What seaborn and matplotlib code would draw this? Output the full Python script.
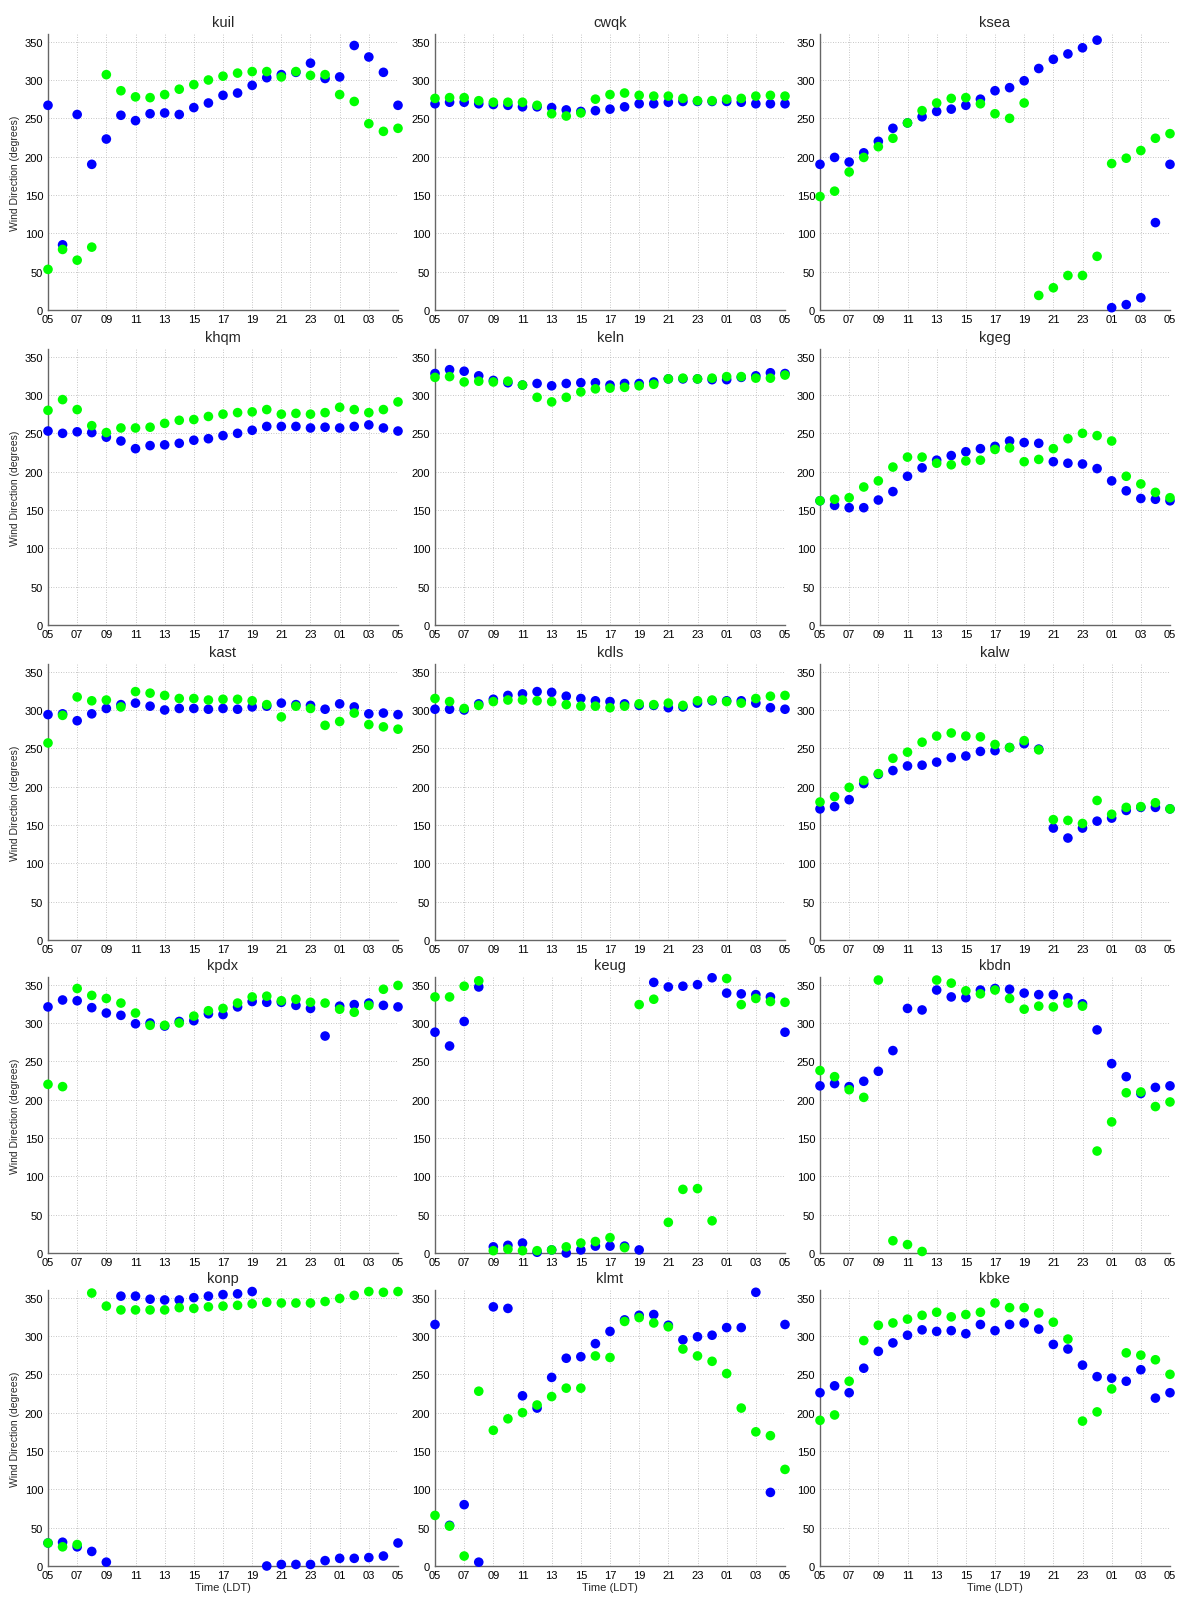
import numpy as np
import pandas as pd
import matplotlib
matplotlib.use("Agg")
import matplotlib.pyplot as plt
import seaborn as sns

# Hour axis: 05 LDT through 05 LDT next day, hourly
hour_index = list(range(25))
tick_positions = list(range(0, 25, 2))
tick_labels = ["05", "07", "09", "11", "13", "15", "17", "19", "21", "23", "01", "03", "05"]
y_ticks = [0, 50, 100, 150, 200, 250, 300, 350]

stations = ["kuil", "cwqk", "ksea",
            "khqm", "keln", "kgeg",
            "kast", "kdls", "kalw",
            "kpdx", "keug", "kbdn",
            "konp", "klmt", "kbke"]

# Wind direction (degrees), blue series then green series per station
kuil_obs = [267, 85, 255, 190, 223, 254, 247, 256, 257, 255, 264, 270, 280, 283, 293, 303, 307, 310, 322, 302, 304, 345, 330, 310, 267]
kuil_fcst = [53, 79, 65, 82, 307, 286, 278, 277, 281, 288, 294, 300, 305, 309, 311, 311, 304, 311, 306, 307, 281, 272, 243, 233, 237]

cwqk_obs = [269, 271, 271, 269, 268, 267, 265, 265, 264, 261, 259, 260, 262, 265, 269, 269, 271, 272, 272, 272, 272, 271, 269, 269, 269]
cwqk_fcst = [276, 277, 277, 273, 271, 271, 271, 267, 256, 253, 257, 275, 281, 283, 280, 279, 279, 276, 273, 273, 275, 276, 279, 280, 279]

ksea_obs = [190, 199, 193, 205, 220, 237, 244, 252, 259, 262, 267, 275, 286, 290, 299, 315, 327, 334, 342, 352, 3, 7, 16, 114, 190]
ksea_fcst = [148, 155, 180, 199, 213, 224, 244, 260, 270, 276, 277, 269, 256, 250, 270, 19, 29, 45, 45, 70, 191, 198, 208, 224, 230]

khqm_obs = [253, 250, 252, 251, 245, 240, 230, 234, 235, 237, 241, 243, 247, 250, 254, 259, 259, 259, 257, 258, 257, 259, 261, 257, 253]
khqm_fcst = [280, 294, 281, 260, 251, 257, 257, 258, 263, 267, 268, 272, 275, 277, 278, 281, 275, 276, 275, 277, 284, 281, 277, 281, 291]

keln_obs = [328, 333, 331, 325, 319, 316, 313, 315, 312, 315, 316, 316, 313, 315, 315, 317, 321, 321, 321, 320, 320, 323, 325, 329, 328]
keln_fcst = [323, 324, 317, 318, 317, 318, 313, 297, 291, 297, 304, 308, 309, 310, 312, 314, 321, 322, 321, 322, 324, 324, 322, 322, 326]

kgeg_obs = [162, 156, 153, 153, 163, 174, 194, 205, 215, 221, 226, 230, 233, 240, 238, 237, 213, 211, 210, 204, 188, 175, 165, 164, 162]
kgeg_fcst = [162, 164, 166, 180, 188, 206, 219, 219, 211, 209, 214, 215, 229, 231, 213, 216, 230, 243, 250, 247, 240, 194, 184, 173, 166]

kast_obs = [294, 295, 286, 295, 302, 307, 309, 305, 300, 302, 302, 301, 302, 301, 304, 305, 309, 307, 306, 301, 308, 304, 295, 296, 294]
kast_fcst = [257, 293, 317, 312, 313, 304, 324, 322, 319, 315, 315, 313, 314, 314, 312, 307, 291, 305, 302, 280, 285, 296, 281, 278, 275]

kdls_obs = [301, 301, 300, 308, 314, 319, 321, 324, 323, 318, 315, 312, 311, 308, 306, 306, 303, 304, 309, 312, 312, 312, 309, 303, 301]
kdls_fcst = [315, 311, 302, 306, 311, 313, 313, 312, 311, 307, 305, 305, 303, 305, 308, 307, 309, 306, 312, 313, 311, 309, 315, 318, 319]

kalw_obs = [171, 174, 183, 204, 216, 221, 227, 228, 232, 238, 240, 246, 247, 251, 256, 249, 146, 133, 146, 155, 159, 169, 173, 173, 171]
kalw_fcst = [180, 187, 199, 208, 217, 237, 245, 258, 266, 270, 266, 265, 255, 251, 260, 248, 157, 156, 152, 182, 164, 173, 174, 179, 171]

kpdx_obs = [321, 330, 329, 320, 313, 310, 299, 300, 296, 302, 303, 312, 311, 321, 328, 327, 327, 323, 319, 283, 322, 324, 326, 323, 321]
kpdx_fcst = [220, 217, 345, 336, 332, 326, 313, 297, 297, 300, 309, 316, 319, 326, 334, 335, 329, 331, 327, 326, 318, 314, 323, 344, 349]

keug_obs = [288, 270, 302, 347, 8, 10, 13, 1, 4, 0, 4, 9, 9, 9, 4, 353, 347, 348, 350, 359, 339, 338, 337, 334, 288]
keug_fcst = [334, 334, 348, 355, 3, 5, 3, 3, 4, 8, 13, 15, 20, 7, 324, 331, 40, 83, 84, 42, 358, 324, 332, 328, 327]

kbdn_obs = [218, 221, 217, 224, 237, 264, 319, 317, 343, 334, 333, 343, 345, 344, 339, 337, 337, 333, 325, 291, 247, 230, 208, 216, 218]
kbdn_fcst = [238, 230, 213, 203, 356, 16, 11, 2, 356, 352, 342, 338, 343, 332, 318, 322, 321, 326, 322, 133, 171, 209, 210, 191, 197]

konp_obs = [30, 31, 25, 19, 5, 352, 352, 348, 347, 347, 350, 352, 354, 355, 358, 0, 2, 2, 2, 7, 10, 10, 11, 13, 30]
konp_fcst = [30, 25, 28, 356, 339, 334, 334, 334, 334, 337, 336, 338, 339, 340, 342, 344, 343, 343, 343, 345, 349, 353, 358, 357, 358]

klmt_obs = [315, 53, 80, 5, 338, 336, 222, 206, 246, 271, 273, 290, 306, 321, 327, 328, 314, 295, 299, 301, 311, 311, 357, 96, 315]
klmt_fcst = [66, 52, 13, 228, 177, 192, 200, 210, 221, 232, 232, 274, 272, 319, 324, 317, 312, 283, 274, 267, 251, 206, 175, 170, 126]

kbke_obs = [226, 235, 226, 258, 280, 291, 301, 308, 306, 307, 303, 315, 307, 315, 317, 309, 289, 283, 262, 247, 245, 241, 256, 219, 226]
kbke_fcst = [190, 197, 241, 294, 314, 317, 322, 327, 331, 325, 328, 331, 343, 337, 337, 330, 318, 296, 189, 201, 231, 278, 275, 269, 250]

series = {
    "kuil": (kuil_obs, kuil_fcst), "cwqk": (cwqk_obs, cwqk_fcst), "ksea": (ksea_obs, ksea_fcst),
    "khqm": (khqm_obs, khqm_fcst), "keln": (keln_obs, keln_fcst), "kgeg": (kgeg_obs, kgeg_fcst),
    "kast": (kast_obs, kast_fcst), "kdls": (kdls_obs, kdls_fcst), "kalw": (kalw_obs, kalw_fcst),
    "kpdx": (kpdx_obs, kpdx_fcst), "keug": (keug_obs, keug_fcst), "kbdn": (kbdn_obs, kbdn_fcst),
    "konp": (konp_obs, konp_fcst), "klmt": (klmt_obs, klmt_fcst), "kbke": (kbke_obs, kbke_fcst),
}

sns.set_style("white")
plt.rcParams["font.family"] = ["Liberation Sans", "DejaVu Sans"]

W, H = 1178, 1606
fig = plt.figure(figsize=(W / 100, H / 100), dpi=100)

col_left = [48, 435, 820]
ax_w = 350
row_top = [35, 350, 665, 978, 1291]
ax_h = 276

palette = {"obs": "#0000ff", "fcst": "#00ff00"}

for i, name in enumerate(stations):
    r, c = divmod(i, 3)
    left = col_left[c] / W
    bottom = 1 - (row_top[r] + ax_h) / H
    ax = fig.add_axes([left, bottom, ax_w / W, ax_h / H])

    obs, fcst = series[name]
    df = pd.DataFrame({
        "hour": hour_index + hour_index,
        "direction": obs + fcst,
        "source": ["obs"] * len(obs) + ["fcst"] * len(fcst),
    })
    sns.scatterplot(data=df, x="hour", y="direction", hue="source", palette=palette,
                    s=48, edgecolor="none", linewidth=0, legend=False, ax=ax,
                    clip_on=False, zorder=3)

    ax.set_xlim(0, 24)
    ax.set_ylim(0, 360)
    ax.set_xticks(tick_positions)
    ax.set_xticklabels(tick_labels)
    ax.set_yticks(y_ticks)
    ax.grid(True, linestyle=(0, (1, 2)), color="#b4b4b4", linewidth=0.6)
    ax.set_axisbelow(True)
    for side in ["top", "right"]:
        ax.spines[side].set_visible(False)
    for side in ["left", "bottom"]:
        ax.spines[side].set_color("#666666")
        ax.spines[side].set_linewidth(1.0)
    ax.tick_params(axis="both", direction="in", length=3, width=0.6,
                   labelsize=8.0, colors="#444444", labelcolor="black")
    ax.tick_params(axis="y", pad=3.5)
    ax.tick_params(axis="x", pad=3)
    ax.set_title(name, fontsize=10.5, pad=6)

    ax.set_xlabel("Time (LDT)" if r == 4 else "", fontsize=8, labelpad=1)
    ax.set_ylabel("Wind Direction (degrees)" if c == 0 else "", fontsize=7.5, labelpad=3)

fig.savefig("out.png", dpi=100, facecolor="white")
